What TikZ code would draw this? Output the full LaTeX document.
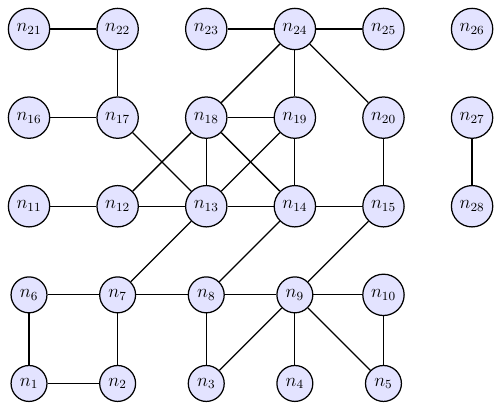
\documentclass[tikz,border=0pt]{standalone}
\begin{document}
\begin{tikzpicture}[
  vtx/.style={circle, draw=black, thick, fill=blue!11, inner sep=3.4pt, font=\large},
  edge/.style={thick}
]
\useasboundingbox (-0.655,0.655) rectangle (10.63,-8.577);
% row 0
\node[vtx] (n21) at (0,0) {$n_{21}$};
\node[vtx] (n22) at (2,0) {$n_{22}$};
\node[vtx] (n23) at (4,0) {$n_{23}$};
\node[vtx] (n24) at (6,0) {$n_{24}$};
\node[vtx] (n25) at (8,0) {$n_{25}$};
\node[vtx] (n26) at (10,0) {$n_{26}$};
% row 1
\node[vtx] (n16) at (0,-2) {$n_{16}$};
\node[vtx] (n17) at (2,-2) {$n_{17}$};
\node[vtx] (n18) at (4,-2) {$n_{18}$};
\node[vtx] (n19) at (6,-2) {$n_{19}$};
\node[vtx] (n20) at (8,-2) {$n_{20}$};
\node[vtx] (n27) at (10,-2) {$n_{27}$};
% row 2
\node[vtx] (n11) at (0,-4) {$n_{11}$};
\node[vtx] (n12) at (2,-4) {$n_{12}$};
\node[vtx] (n13) at (4,-4) {$n_{13}$};
\node[vtx] (n14) at (6,-4) {$n_{14}$};
\node[vtx] (n15) at (8,-4) {$n_{15}$};
\node[vtx] (n28) at (10,-4) {$n_{28}$};
% row 3
\node[vtx] (n6) at (0,-6) {$n_{6}$};
\node[vtx] (n7) at (2,-6) {$n_{7}$};
\node[vtx] (n8) at (4,-6) {$n_{8}$};
\node[vtx] (n9) at (6,-6) {$n_{9}$};
\node[vtx] (n10) at (8,-6) {$n_{10}$};
% row 4
\node[vtx] (n1) at (0,-8) {$n_{1}$};
\node[vtx] (n2) at (2,-8) {$n_{2}$};
\node[vtx] (n3) at (4,-8) {$n_{3}$};
\node[vtx] (n4) at (6,-8) {$n_{4}$};
\node[vtx] (n5) at (8,-8) {$n_{5}$};
% edges
\draw[edge] (n21) -- (n22);
\draw[edge] (n22) -- (n17);
\draw[edge] (n23) -- (n24);
\draw[edge] (n24) -- (n25);
\draw[edge] (n24) -- (n18);
\draw[edge] (n24) -- (n19);
\draw[edge] (n24) -- (n20);
\draw[edge] (n16) -- (n17);
\draw[edge] (n17) -- (n13);
\draw[edge] (n18) -- (n19);
\draw[edge] (n18) -- (n12);
\draw[edge] (n18) -- (n13);
\draw[edge] (n18) -- (n14);
\draw[edge] (n19) -- (n13);
\draw[edge] (n19) -- (n14);
\draw[edge] (n20) -- (n15);
\draw[edge] (n27) -- (n28);
\draw[edge] (n11) -- (n12);
\draw[edge] (n12) -- (n13);
\draw[edge] (n13) -- (n14);
\draw[edge] (n14) -- (n15);
\draw[edge] (n13) -- (n7);
\draw[edge] (n14) -- (n8);
\draw[edge] (n15) -- (n9);
\draw[edge] (n6) -- (n7);
\draw[edge] (n7) -- (n8);
\draw[edge] (n8) -- (n9);
\draw[edge] (n9) -- (n10);
\draw[edge] (n6) -- (n1);
\draw[edge] (n7) -- (n2);
\draw[edge] (n1) -- (n2);
\draw[edge] (n8) -- (n3);
\draw[edge] (n9) -- (n3);
\draw[edge] (n9) -- (n4);
\draw[edge] (n9) -- (n5);
\draw[edge] (n10) -- (n5);
\end{tikzpicture}
\end{document}
